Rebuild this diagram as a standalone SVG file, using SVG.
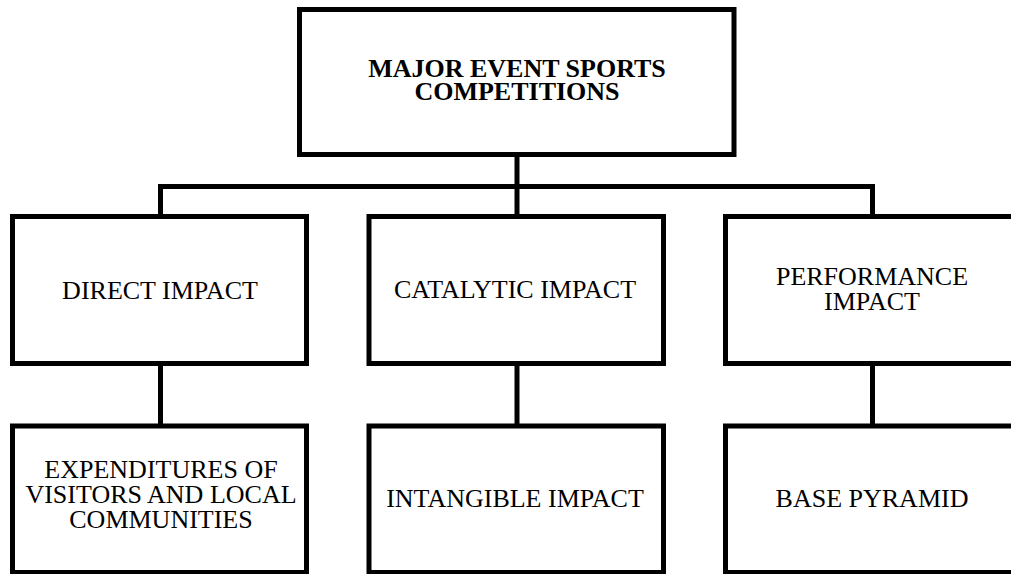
<svg xmlns="http://www.w3.org/2000/svg" width="1011" height="574" viewBox="0 0 1011 574">
<style>
.box{fill:#fff;stroke:#000;stroke-width:5}
.conn{fill:none;stroke:#000;stroke-width:5}
text{font-family:"Liberation Serif","Times New Roman",serif;font-size:26px;fill:#000;text-anchor:middle}
.b{font-weight:bold}
</style>
<rect width="1011" height="574" fill="#fff"/>
<g id="connectors">
<line class="conn" x1="517" y1="154.5" x2="517" y2="216.5"/>
<polyline class="conn" points="160.5,216.5 160.5,186.5 872.5,186.5 872.5,216.5"/>
<line class="conn" x1="160.5" y1="363.5" x2="160.5" y2="426"/>
<line class="conn" x1="517" y1="363.5" x2="517" y2="426"/>
<line class="conn" x1="872.5" y1="363.5" x2="872.5" y2="426"/>
</g>
<g id="major-event">
<rect class="box" x="299.5" y="9.5" width="434.5" height="145"/>
<text class="b" x="517" y="77">MAJOR EVENT SPORTS<tspan x="517" dy="23">COMPETITIONS</tspan></text>
</g>
<g id="direct-impact">
<rect class="box" x="12.5" y="216.5" width="294" height="147"/>
<text x="160" y="299">DIRECT IMPACT</text>
</g>
<g id="catalytic-impact">
<rect class="box" x="369" y="216.5" width="294.5" height="147"/>
<text x="515" y="298">CATALYTIC IMPACT</text>
</g>
<g id="performance-impact">
<rect class="box" x="725.5" y="216.5" width="294" height="147"/>
<text x="872" y="285">PERFORMANCE<tspan x="872" dy="25">IMPACT</tspan></text>
</g>
<g id="expenditures">
<rect class="box" x="12.5" y="426" width="294" height="146.5"/>
<text x="161" y="478">EXPENDITURES OF<tspan x="161" dy="25">VISITORS AND LOCAL</tspan><tspan x="161" dy="25">COMMUNITIES</tspan></text>
</g>
<g id="intangible-impact">
<rect class="box" x="369" y="426" width="294.5" height="146.5"/>
<text x="515" y="507">INTANGIBLE IMPACT</text>
</g>
<g id="base-pyramid">
<rect class="box" x="725.5" y="426" width="294" height="146.5"/>
<text x="872" y="507">BASE PYRAMID</text>
</g>
</svg>
